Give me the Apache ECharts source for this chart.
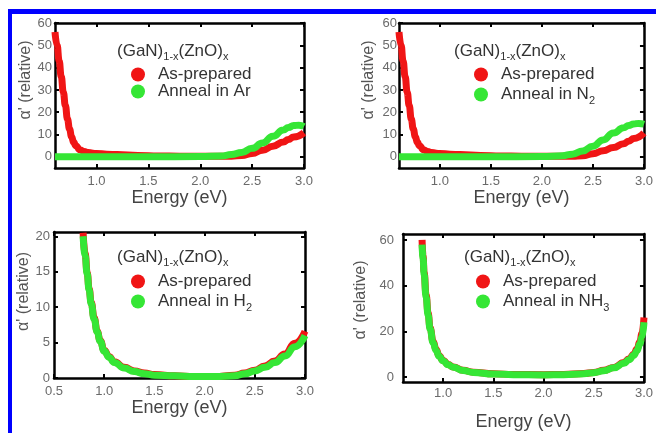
<!DOCTYPE html>
<html>
<head>
<meta charset="utf-8">
<script src="https://cdn.jsdelivr.net/npm/echarts@6/dist/echarts.min.js"></script>
<style>
  html, body { margin: 0; padding: 0; background: #fff; }
  #chart { width: 656px; height: 433px; }
</style>
</head>
<body>
<div id="chart"></div>
<script>
// ---- data ----
// panel a: anneal in Ar
var prepArE = [0.6, 0.62, 0.64, 0.66, 0.68, 0.7, 0.72, 0.74, 0.76, 0.78, 0.8, 0.84, 0.88, 0.92, 1.0, 1.1, 1.2, 1.4, 1.6, 1.8, 2.0, 2.2, 2.3, 2.4, 2.5, 2.6, 2.7, 2.8, 2.85, 2.9, 3.0]
var prepArA = [56, 50, 43, 36, 29, 23, 17, 12.5, 9, 6.5, 5, 3.2, 2.4, 1.9, 1.5, 1.2, 1.0, 0.6, 0.4, 0.3, 0.3, 0.3, 0.3, 0.6, 1.5, 3.0, 4.8, 6.6, 7.8, 8.9, 10.8]
var annArE = [0.6, 1.0, 1.5, 2.0, 2.2, 2.3, 2.4, 2.5, 2.6, 2.7, 2.8, 2.85, 2.9, 2.95, 3.0]
var annArA = [0, 0, 0, 0.1, 0.4, 1.0, 2.0, 3.8, 6.2, 9.2, 12.0, 13.2, 14.0, 14.2, 13.6]

// panel b: anneal in N2
var prepN2E = [0.6, 0.62, 0.64, 0.66, 0.68, 0.7, 0.72, 0.74, 0.76, 0.78, 0.8, 0.84, 0.88, 0.92, 1.0, 1.1, 1.2, 1.4, 1.6, 1.8, 2.0, 2.2, 2.3, 2.4, 2.5, 2.6, 2.7, 2.8, 2.85, 2.9, 3.0]
var prepN2A = [56, 50, 43, 36, 29, 23, 17, 12.5, 9, 6.5, 5, 3.2, 2.4, 1.9, 1.5, 1.2, 1.0, 0.6, 0.4, 0.3, 0.3, 0.3, 0.3, 0.5, 1.4, 2.7, 4.2, 5.9, 7.0, 8.2, 10.7]
var annN2E = [0.6, 1.0, 1.5, 2.0, 2.2, 2.3, 2.4, 2.5, 2.6, 2.7, 2.8, 2.85, 2.9, 2.95, 3.0]
var annN2A = [0, 0, 0, 0.1, 0.5, 1.2, 2.6, 4.8, 7.6, 10.7, 13.0, 14.0, 14.7, 15.0, 14.6]

// panel c: anneal in H2
var prepH2E = [0.79, 0.81, 0.83, 0.85, 0.87, 0.9, 0.93, 0.96, 1.0, 1.05, 1.1, 1.2, 1.3, 1.4, 1.5, 1.7, 1.9, 2.1, 2.3, 2.4, 2.5, 2.6, 2.7, 2.8, 2.9, 3.0]
var prepH2A = [20.5, 17.6, 14.9, 12.6, 10.7, 8.5, 6.6, 5.3, 3.9, 3.0, 2.3, 1.5, 1.0, 0.7, 0.5, 0.3, 0.2, 0.2, 0.4, 0.7, 1.1, 1.7, 2.4, 3.4, 4.9, 6.6]
var annH2E = [0.79, 0.81, 0.83, 0.85, 0.87, 0.9, 0.93, 0.96, 1.0, 1.05, 1.1, 1.2, 1.3, 1.4, 1.5, 1.7, 1.9, 2.1, 2.3, 2.4, 2.5, 2.6, 2.7, 2.8, 2.9, 3.0]
var annH2A = [20.0, 17.3, 14.7, 12.4, 10.5, 8.3, 6.5, 5.2, 3.8, 2.9, 2.2, 1.4, 0.9, 0.6, 0.4, 0.3, 0.2, 0.2, 0.3, 0.6, 1.0, 1.5, 2.2, 3.1, 4.4, 6.0]

// panel d: anneal in NH3
var prepNH3E = [0.79, 0.8, 0.81, 0.83, 0.85, 0.87, 0.9, 0.93, 0.96, 1.0, 1.05, 1.1, 1.2, 1.3, 1.5, 1.7, 2.0, 2.2, 2.4, 2.5, 2.6, 2.7, 2.8, 2.85, 2.9, 2.93, 2.96, 2.98, 3.0]
var prepNH3A = [60, 53, 46, 36, 28, 21.5, 15.5, 12, 9.3, 7.2, 5.5, 4.4, 2.9, 2.1, 1.4, 1.1, 1.0, 1.1, 1.5, 2.0, 2.9, 4.2, 6.3, 7.9, 10.0, 12.2, 15.5, 19, 26]
var annNH3E = [0.79, 0.8, 0.81, 0.83, 0.85, 0.87, 0.9, 0.93, 0.96, 1.0, 1.05, 1.1, 1.2, 1.3, 1.5, 1.7, 2.0, 2.2, 2.4, 2.5, 2.6, 2.7, 2.8, 2.85, 2.9, 2.93, 2.96, 2.98, 3.0]
var annNH3A = [58, 52, 45, 35, 27, 21, 15, 11.5, 9, 7, 5.3, 4.3, 2.8, 2.0, 1.3, 1.0, 0.9, 1.0, 1.4, 1.9, 2.7, 4.0, 6.0, 7.5, 9.5, 11.5, 14.5, 17.5, 24]

// axis ticks
var xTicksTop = [1.0, 1.5, 2.0, 2.5, 3.0]
var xTicksH2 = [0.5, 1.0, 1.5, 2.0, 2.5, 3.0]
var yTicks60 = [0, 10, 20, 30, 40, 50, 60]
var yTicks20 = [0, 5, 10, 15, 20]
var yTicksNH3 = [0, 20, 40, 60]

var annealNames = ['Anneal in Ar', 'Anneal in N2', 'Anneal in H2', 'Anneal in NH3']

function pairs(xs, ys) {
  return xs.map(function (x, i) { return [x, ys[i]] })
}

var RED = '#f01515'
var GREEN = '#35e635'

// layout of the four panels
var panels = [
  { grid: { left: 55, top: 23, width: 249, height: 145 }, xMin: 0.6, yMin: -5, yMax: 60, xTicks: xTicksTop, yTicks: yTicks60,
    yMargin: 3, xMargin: 7, xGap: 18, yGap: 19, yShift: 31, title: [117, 41], legend: [131, 66],
    prep: pairs(prepArE, prepArA), ann: pairs(annArE, annArA) },
  { grid: { left: 399, top: 23, width: 249, height: 145 }, xMin: 0.6, yMin: -5, yMax: 60, xTicks: xTicksTop, yTicks: yTicks60,
    yMargin: 2, xMargin: 7, xGap: 18, yGap: 22, yShift: 31, title: [454, 41], legend: [474, 66],
    prep: pairs(prepN2E, prepN2A), ann: pairs(annN2E, annN2A) },
  { grid: { left: 54, top: 232, width: 251, height: 146 }, xMin: 0.5, yMin: 0, yMax: 20.6, xTicks: xTicksH2, yTicks: yTicks20,
    yMargin: 4, xMargin: 7, xGap: 20, yGap: 18, yShift: 27, title: [117, 247], legend: [131, 273],
    prep: pairs(prepH2E, prepH2A), ann: pairs(annH2E, annH2A) },
  { grid: { left: 403, top: 234, width: 246, height: 148 }, xMin: 0.6, yMin: -2.2, yMax: 62.6, xTicks: xTicksTop, yTicks: yTicksNH3,
    yMargin: 9, xMargin: 5, xGap: 31, yGap: 34, yShift: 16, title: [464, 247], legend: [476, 273],
    prep: pairs(prepNH3E, prepNH3A), ann: pairs(annNH3E, annNH3A) }
]

var FONT = 'Liberation Sans, Arial, sans-serif'
var frameLine = { show: true, onZero: false, lineStyle: { color: '#000', width: 2.5 } }
var tickStyle = { lineStyle: { color: '#000', width: 2 } }

var option = {
  backgroundColor: '#fff',
  animation: false,
  textStyle: { fontFamily: FONT },
  grid: [], xAxis: [], yAxis: [], series: [], title: [], legend: [],
  graphic: [
    // blue border of the figure
    { type: 'rect', left: 8, top: 9, shape: { width: 4, height: 424 }, style: { fill: '#0000ff' } },
    { type: 'rect', left: 8, top: 9, shape: { width: 648, height: 5 }, style: { fill: '#0000ff' } }
  ]
}

var rich = {
  b: { fontSize: 17, fontWeight: 'normal', color: '#333', lineHeight: 20, fontFamily: FONT },
  t: { fontSize: 17, fontWeight: 'normal', color: '#333', lineHeight: 20, fontFamily: FONT, padding: [0, 0, 0, 8] },
  s: { fontSize: 11, fontWeight: 'normal', color: '#333', lineHeight: 11, fontFamily: FONT, padding: [12, 0, 0, 0] }
}

panels.forEach(function (p, i) {
  option.grid.push(p.grid)
  // bottom + top x axes
  option.xAxis.push({
    gridIndex: i, type: 'value', min: p.xMin, max: 3.0,
    name: 'Energy (eV)', nameLocation: 'middle', nameGap: p.xGap,
    nameTextStyle: { fontSize: 18, color: '#444', fontFamily: FONT },
    axisLine: frameLine,
    axisTick: Object.assign({ inside: true, length: 4, customValues: p.xTicks }, tickStyle),
    axisLabel: { customValues: p.xTicks, margin: p.xMargin, fontSize: 13, color: '#6a6a6a',
      formatter: function (v) { return v.toFixed(1) } },
    splitLine: { show: false }
  })
  option.xAxis.push({
    gridIndex: i, type: 'value', min: p.xMin, max: 3.0, position: 'top',
    axisLine: frameLine,
    axisTick: Object.assign({ inside: true, length: 4, customValues: p.xTicks }, tickStyle),
    axisLabel: { show: false }, splitLine: { show: false }
  })
  // left + right y axes
  option.yAxis.push({
    gridIndex: i, type: 'value', min: p.yMin, max: p.yMax,
    name: "α' (relative)", nameLocation: 'middle', nameGap: p.yGap,
    nameTextStyle: { fontSize: 16, color: '#555', fontFamily: FONT, padding: [0, 0, 0, p.yShift] },
    axisLine: frameLine,
    axisTick: Object.assign({ inside: true, length: 4, customValues: p.yTicks }, tickStyle),
    axisLabel: { customValues: p.yTicks, margin: p.yMargin, fontSize: 13, color: '#6a6a6a' },
    splitLine: { show: false }
  })
  option.yAxis.push({
    gridIndex: i, type: 'value', min: p.yMin, max: p.yMax, position: 'right',
    axisLine: frameLine,
    axisTick: Object.assign({ inside: true, length: 4, customValues: p.yTicks }, tickStyle),
    axisLabel: { show: false }, splitLine: { show: false }
  })

  var lineBase = {
    type: 'line', xAxisIndex: 2 * i, yAxisIndex: 2 * i,
    showSymbol: false, smooth: true, smoothMonotone: 'x', clip: true
  }
  option.series.push(Object.assign({}, lineBase, {
    name: 'As-prepared', data: p.prep, color: RED, lineStyle: { width: 7, color: RED }
  }))
  option.series.push(Object.assign({}, lineBase, {
    name: annealNames[i], data: p.ann, color: GREEN, lineStyle: { width: 7, color: GREEN }
  }))

  // "(GaN)1-x(ZnO)x" heading inside the plot
  option.title.push({
    left: p.title[0], top: p.title[1], padding: 0,
    text: '{b|(GaN)}{s|1-x}{b|(ZnO)}{s|x}',
    textStyle: { fontWeight: 'normal', rich: rich }
  })
  option.legend.push({
    left: p.legend[0], top: p.legend[1], orient: 'vertical', padding: 0, itemGap: 0,
    itemWidth: 14, itemHeight: 14, icon: 'circle',
    data: ['As-prepared', annealNames[i]],
    formatter: function (name) {
      var m = name.match(/^(.*[A-Z])(\d)$/)
      if (m) return '{t|' + m[1] + '}{s|' + m[2] + '}'
      return '{t|' + name + '}'
    },
    textStyle: { rich: rich }
  })
})

var chart = echarts.init(document.getElementById('chart'))
chart.setOption(option)
</script>
</body>
</html>
